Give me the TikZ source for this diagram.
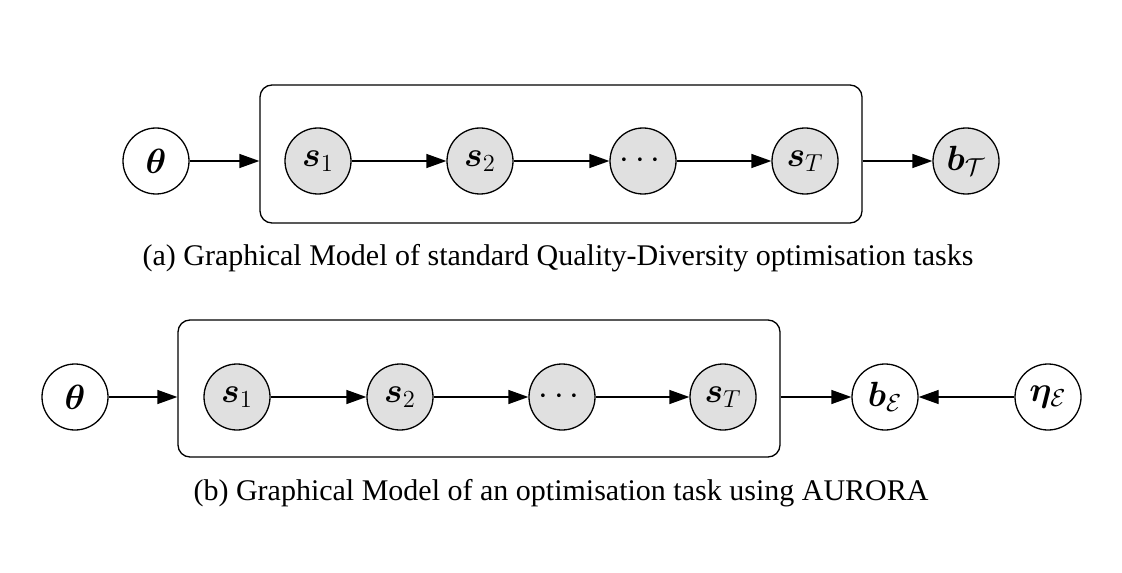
\RequirePackage{fix-cm}
\documentclass[tikz,border=0pt]{standalone}
\usepackage{fontspec}
\setmainfont{Liberation Serif}
\usepackage{amsmath}
\usepackage{bm}
\usetikzlibrary{arrows.meta}
\definecolor{nodegray}{RGB}{224,224,224}
\begin{document}
\begin{tikzpicture}[x=0.5pt,y=-0.5pt,
  var/.style={circle,draw,line width=0.65pt,minimum size=33pt,inner sep=0pt,font=\fontsize{17.5}{20}\selectfont},
  obs/.style={var,fill=nodegray},
  plate/.style={draw,line width=0.65pt,rounded corners=6pt,inner sep=0pt},
  edge/.style={line width=0.65pt,-{Triangle[length=10pt,width=7pt]}},
  capt/.style={font=\fontsize{15}{18}\selectfont,inner sep=0pt}]
\useasboundingbox (0,0) rectangle (1122,572);
% ---- (a)
\node[plate,minimum width=301pt,minimum height=69pt] (boxa) at (561,154) {};
\node[var] (tha) at (156,161) {$\bm{\theta}$};
\node[obs] (s1a) at (318,161) {$\bm{s}_1$};
\node[obs] (s2a) at (480,161) {$\bm{s}_2$};
\node[obs] (dda) at (643,161) {$\cdots$};
\node[obs] (sTa) at (805,161) {$\bm{s}_T$};
\node[obs] (bTa) at (966,161) {$\bm{b}_{\mathcal{T}}$};
\draw[edge] (tha) -- (tha -| boxa.west);
\draw[edge] (s1a) -- (s2a);
\draw[edge] (s2a) -- (dda);
\draw[edge] (dda) -- (sTa);
\draw[edge] (boxa.east |- bTa) -- (bTa);
\node[capt] (capa) at (558,258) {(a) Graphical Model of standard Quality-Diversity optimisation tasks};
% ---- (b)
\node[plate,minimum width=301pt,minimum height=68.5pt] (boxb) at (479,388.5) {};
\node[var] (thb) at (75,397) {$\bm{\theta}$};
\node[obs] (s1b) at (237,397) {$\bm{s}_1$};
\node[obs] (s2b) at (400,397) {$\bm{s}_2$};
\node[obs] (ddb) at (562,397) {$\cdots$};
\node[obs] (sTb) at (723,397) {$\bm{s}_T$};
\node[var] (bEb) at (885,397) {$\bm{b}_{\mathcal{E}}$};
\node[var] (etb) at (1048,397) {$\bm{\eta}_{\mathcal{E}}$};
\draw[edge] (thb) -- (thb -| boxb.west);
\draw[edge] (s1b) -- (s2b);
\draw[edge] (s2b) -- (ddb);
\draw[edge] (ddb) -- (sTb);
\draw[edge] (boxb.east |- bEb) -- (bEb);
\draw[edge] (etb) -- (bEb);
\node[capt] (capb) at (561,493) {(b) Graphical Model of an optimisation task using AURORA};
\end{tikzpicture}
\end{document}
